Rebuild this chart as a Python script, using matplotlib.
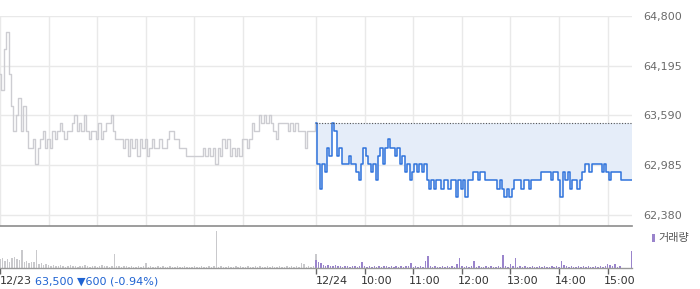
import numpy as np
import matplotlib
matplotlib.use("Agg")
import matplotlib.pyplot as plt
from matplotlib.patches import Rectangle
from matplotlib.transforms import ScaledTranslation

# price in units of 100 won, sampled every 3 minutes (09:00 - 15:30)
day1_price = [641, 639, 644, 646, 641, 637, 634, 636, 638, 634, 637, 634, 632, 632, 633, 630,
              632, 633, 634, 632, 633, 632, 634, 633, 634, 635, 634, 633, 634, 634, 635, 636,
              634, 635, 634, 636, 634, 633, 634, 634, 633, 635, 633, 634, 635, 635, 636, 634,
              633, 633, 633, 632, 633, 631, 633, 632, 633, 631, 633, 632, 633, 631, 632, 633,
              632, 632, 633, 632, 632, 633, 634, 634, 633, 633, 632, 632, 632, 631, 631, 631,
              631, 631, 631, 631, 632, 631, 632, 631, 632, 630, 632, 631, 633, 632, 633, 631,
              632, 631, 632, 631, 633, 633, 632, 633, 635, 634, 634, 636, 635, 636, 635, 636,
              635, 634, 633, 635, 635, 635, 635, 634, 635, 634, 635, 634, 634, 634, 632, 634,
              634, 634, 635]
day2_price = [635, 630, 627, 630, 629, 632, 631, 635, 634, 631, 632, 630, 630, 630, 631, 630,
              630, 629, 628, 630, 632, 631, 630, 629, 630, 628, 631, 632, 630, 632, 633, 632,
              632, 631, 632, 630, 631, 629, 630, 628, 629, 630, 629, 630, 629, 630, 628, 627,
              628, 627, 628, 628, 627, 628, 628, 627, 628, 628, 626, 628, 627, 628, 626, 628,
              628, 629, 629, 628, 629, 629, 628, 628, 628, 628, 628, 627, 628, 627, 626, 627,
              626, 627, 628, 628, 628, 627, 628, 628, 627, 628, 628, 628, 628, 629, 629, 629,
              629, 628, 629, 629, 628, 626, 629, 628, 629, 627, 628, 628, 627, 628, 629, 630,
              630, 629, 630, 630, 630, 630, 629, 630, 629, 628, 629, 629, 629, 629, 628, 628,
              628, 628, 628]

# volume (thousand shares), same 3-minute grid
day1_vol = [9, 10, 7, 9, 6, 10, 11, 9, 8, 18, 6, 7, 5, 6, 6, 18, 4, 5, 3, 4, 3,
            2, 3, 2, 2, 3, 2, 1, 2, 3, 2, 2, 1, 2, 2, 3, 2, 1, 2, 2, 1, 2, 3, 2, 2, 1, 2,
            14,
            2, 2, 1, 2, 2, 1, 2, 1, 1, 2, 1, 2,
            5,
            1, 2, 1, 1, 2, 1, 2, 1, 1, 2, 1, 1, 2, 1, 1, 2, 1, 1, 1, 2, 1, 1, 2, 1, 1, 2, 1, 2,
            37,
            1, 2, 1, 1, 2, 1, 1, 2, 1, 2, 1, 1, 2, 1, 1, 2, 1, 2, 1, 1, 2, 1, 2, 1, 1, 2, 1, 1,
            2, 1, 2, 1, 2, 1,
            5, 4, 1, 2, 1, 2, 14]
day2_vol = [8, 6, 5, 3, 2, 3, 2, 2, 3, 2, 2, 1, 2, 2, 1, 2, 2, 1, 2, 6,
            2, 1, 2, 1, 2, 1, 2, 1, 2, 2, 1, 2, 1, 2, 1, 2, 1, 2, 2, 5,
            1, 2, 1, 2, 1, 7, 12,
            2, 1, 2, 1, 1, 2, 1, 2, 1, 2, 1, 4, 10,
            2, 1, 2, 1, 2, 7,
            1, 2, 1, 1, 2, 1, 2, 1, 1, 2, 1, 13,
            2, 1, 4, 2, 10,
            1, 2, 1, 2, 1, 1, 2, 1, 1, 2, 1, 2, 1, 1, 2, 1, 2, 1, 7, 3,
            2, 1, 2, 1, 1, 2, 1, 2, 1, 2, 1, 1, 2, 1, 2, 1, 2, 4, 3, 2, 4, 1, 2,
            0, 0, 0, 0, 17]

prev_close = 63500
y_ticks = [62380, 62985, 63590, 64195, 64800]
x_labels = ["12/23", "12/24", "10:00", "11:00", "12:00", "13:00", "14:00", "15:00"]

p1 = np.array(day1_price) * 100
p2 = np.array(day2_price) * 100
t1 = np.linspace(0, 390, len(p1))
t2 = np.linspace(390, 780, len(p2))
tv1 = np.linspace(0, 390, len(day1_vol))
tv2 = np.linspace(390, 780, len(day2_vol))

W, H = 700, 289
fig = plt.figure(figsize=(W / 100, H / 100), dpi=100)

# price panel
ax = fig.add_axes([0, 63 / H, 632 / W, 210 / H])
ax.fill_between(t2, p2, prev_close, where=p2 <= prev_close, color="#e5edf9", lw=0, step="mid")
ax.plot(t1, p1, color="#cdcdd2", lw=1.0, drawstyle="steps-mid")
ax.plot(t2, p2, color="#2f73dc", lw=1.1, drawstyle="steps-mid")
ax.hlines(prev_close, 390, 780, color="#555555", lw=0.8, linestyles=(0, (1, 1.5)))

ax.set_xlim(0, 780)
ax.set_ylim(62246, 64800)
ax.set_yticks(y_ticks)
ax.set_yticklabels([f"{v:,}" for v in y_ticks])
ax.set_xticks([0, 60, 120, 180, 240, 300, 390, 450, 510, 570, 630, 690, 750])
ax.set_xticklabels([])
ax.tick_params(axis="x", length=0)
ax.tick_params(axis="y", left=False, labelleft=False, right=True, labelright=True,
               length=0, pad=8, labelsize=8, labelcolor="#6a6a6a")
ax.grid(True, color="#e9e9e9", lw=1)
ax.set_axisbelow(True)
for s in ["top", "left", "right"]:
    ax.spines[s].set_visible(False)
ax.spines["bottom"].set_color("#8c8c8c")
ax.spines["bottom"].set_linewidth(1.2)

# volume panel
vax = fig.add_axes([0, 21 / H, 632 / W, 40 / H])
vax.bar(tv1, day1_vol, width=1.8, color="#c9c9cc", lw=0)
vax.bar(tv2, day2_vol, width=1.8, color="#9a84cc", lw=0)
vax.set_xlim(0, 780)
vax.set_ylim(0, 40)
vax.set_yticks([])
for s in ["top", "left", "right"]:
    vax.spines[s].set_visible(False)
vax.spines["bottom"].set_color("#999999")
vax.spines["bottom"].set_linewidth(1.0)
vax.set_xticks([0, 390, 450, 510, 570, 630, 690, 750])
vax.set_xticklabels(x_labels)
vax.tick_params(axis="x", length=4, width=1, color="#666666", pad=2,
                labelsize=8, labelcolor="#333333")
for i, lab in enumerate(vax.get_xticklabels()):
    lab.set_ha("left")
    if i >= 2:
        lab.set_transform(lab.get_transform() + ScaledTranslation(-4 / 100, 0, fig.dpi_scale_trans))

fig.text(35 / W, 1 - 282 / H, "63,500 \u25bc600 (-0.94%)", color="#1f63d2",
         fontsize=8, va="center", ha="left")

# legend
fig.patches.append(Rectangle((652 / W, 1 - 242 / H), 3 / W, 8 / H, transform=fig.transFigure,
                             color="#9a84cc", lw=0))
fig.text(658 / W, 1 - 238 / H, "거래량", color="#555555", fontsize=8, va="center", ha="left",
         family=["Noto Sans CJK KR", "DejaVu Sans"])

fig.savefig("out.png", dpi=100)
